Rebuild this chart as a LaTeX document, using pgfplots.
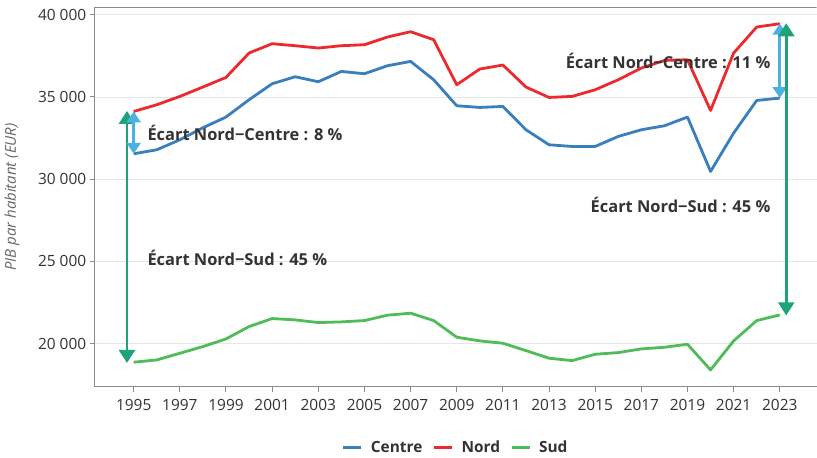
\documentclass[border=0pt]{standalone}
\usepackage{fontspec}
\setmainfont{Open Sans}
\usepackage{pgfplots}
\usepackage{pgfplotstable}
\pgfplotsset{compat=1.18}
\usetikzlibrary{arrows.meta}

\definecolor{centreblue}{HTML}{3A7FBD}
\definecolor{nordred}{HTML}{EC2A2E}
\definecolor{sudgreen}{HTML}{4FBB59}
\definecolor{arrblue}{HTML}{4BB1E3}
\definecolor{arrgreen}{HTML}{1EA27A}
\definecolor{axgray}{HTML}{8A8A8A}
\definecolor{txt}{HTML}{333333}

\pgfplotstableread{
year centre nord sud
1995 31545 34118 18873
1996 31788 34525 19013
1997 32396 35032 19419
1998 33126 35602 19824
1999 33777 36186 20291
2000 34830 37670 21040
2001 35803 38236 21527
2002 36228 38114 21446
2003 35924 37974 21284
2004 36551 38114 21325
2005 36411 38175 21405
2006 36898 38643 21733
2007 37160 38966 21854
2008 36046 38479 21405
2009 34464 35742 20394
2010 34362 36697 20169
2011 34423 36940 20028
2012 33005 35602 19580
2013 32092 34970 19117
2014 31990 35032 18971
2015 31990 35438 19358
2016 32600 36046 19458
2017 33005 36757 19683
2018 33248 37220 19783
2019 33777 37263 19965
2020 30470 34179 18405
2021 32802 37670 20169
2022 34787 39252 21405
2023 34932 39453 21749
}\pibdata

\begin{document}
\begin{tikzpicture}
\begin{axis}[
  scale only axis,
  width=722bp, height=379.4bp,
  xmin=1993.31, xmax=2024.6,
  ymin=17385, ymax=40450,
  axis x line*=bottom, axis y line*=left,
  axis line style={axgray, line width=1.5bp, -},
  xtick={1995,1997,...,2023},
  ytick={20000,25000,30000,35000,40000},
  scaled y ticks=false,
  tick align=outside, major tick length=5bp,
  tick style={axgray, line width=1bp},
  ymajorgrids, grid style={black!10, line width=0.8bp},
  /pgf/number format/assume math mode=true,
  x tick label style={/pgf/number format/1000 sep={}, yshift=-4bp},
  y tick label style={/pgf/number format/1000 sep={\ }},
  tick label style={font=\fontsize{15.5}{15.5}\selectfont, text=txt},
  ylabel={PIB par habitant (EUR)},
  ylabel style={at={(axis description cs:-0.1145,0.5)}, anchor=center,
    font=\itshape\fontsize{15}{15}\selectfont, text=black!60},
  legend style={at={(0.5,-0.161)}, anchor=center, legend columns=-1,
    draw=none, fill=none, font=\bfseries\fontsize{15.5}{15.5}\selectfont, text=txt,
    /tikz/every odd column/.append style={column sep=6bp},
    /tikz/every even column/.append style={column sep=8bp}},
  legend image code/.code={\draw[#1, line width=3bp] (0bp,0bp) -- (18bp,0bp);},
  every axis plot/.append style={line width=2.8bp, line join=round},
]
\addplot[centreblue] table[x=year, y=centre] {\pibdata};
\addlegendentry{Centre}
\addplot[nordred] table[x=year, y=nord] {\pibdata};
\addlegendentry{Nord}
\addplot[sudgreen] table[x=year, y=sud] {\pibdata};
\addlegendentry{Sud}

\draw[axgray, line width=1.5bp] (rel axis cs:0,1) -- (rel axis cs:1,1);

% ecarts
\addplot[forget plot, arrgreen, line width=2.6bp,
  {Triangle[width=16bp,length=13bp]}-{Triangle[width=16bp,length=13bp]}]
  coordinates {(1994.71,34150) (1994.71,18830)};
\addplot[forget plot, arrblue, line width=2.6bp,
  {Triangle[width=14bp,length=11bp]}-{Triangle[width=14bp,length=11bp]}]
  coordinates {(1995,34118) (1995,31545)};
\addplot[forget plot, arrblue, line width=2.6bp,
  {Triangle[width=14bp,length=11bp]}-{Triangle[width=14bp,length=11bp]}]
  coordinates {(2023,39453) (2023,34932)};
\addplot[forget plot, arrgreen, line width=2.6bp,
  {Triangle[width=16bp,length=13bp]}-{Triangle[width=16bp,length=13bp]}]
  coordinates {(2023.28,39480) (2023.28,21720)};

\begin{scope}[every node/.style={font=\bfseries\fontsize{16.5}{16.5}\selectfont, text=txt, inner sep=0pt}]
\node[anchor=west] at (axis cs:1995.59,32807) {Écart Nord−Centre : 8 \%};
\node[anchor=west] at (axis cs:1995.59,25189) {Écart Nord−Sud : 45 \%};
\node[anchor=east] at (axis cs:2022.6,37185) {Écart Nord−Centre : 11 \%};
\node[anchor=east] at (axis cs:2022.6,28430) {Écart Nord−Sud : 45 \%};
\end{scope}
\end{axis}
\pgfresetboundingbox
\path (current axis.south west) ++(-94.7bp,-71.3bp) rectangle ++(817bp,458bp);
\end{tikzpicture}
\end{document}
